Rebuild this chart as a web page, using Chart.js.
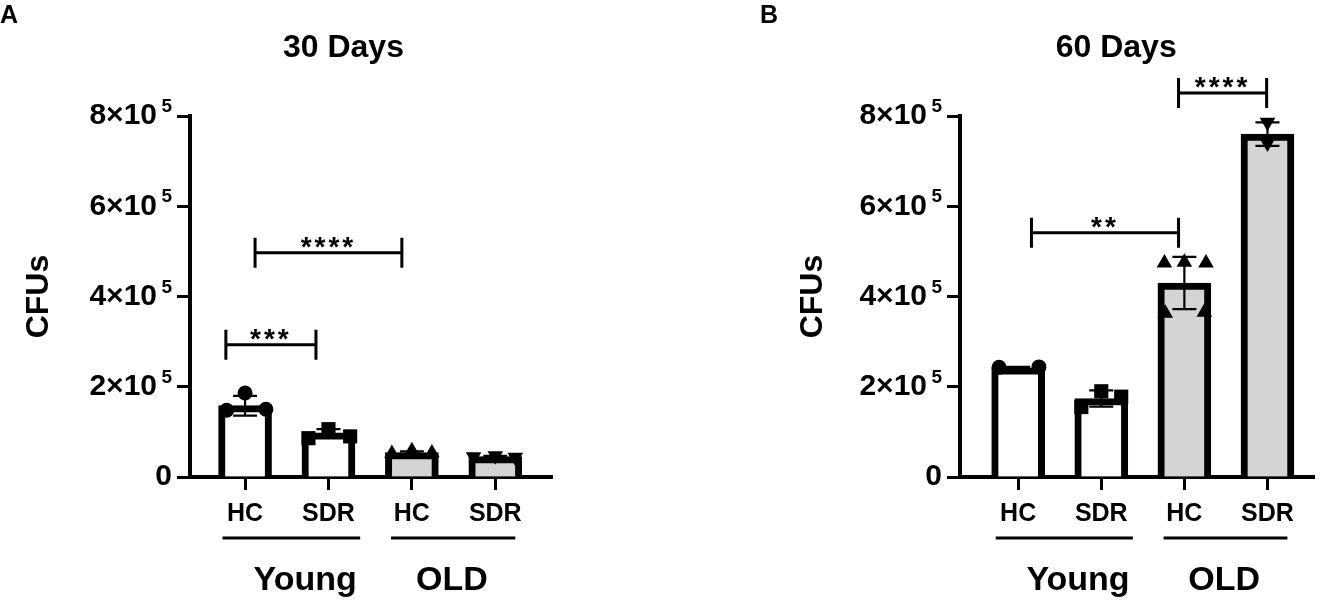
<!DOCTYPE html>
<html lang="en">
<head>
<meta charset="UTF-8" />
<script src="https://cdn.jsdelivr.net/npm/chart.js@4.4.1/dist/chart.umd.min.js"></script>
<title>CFUs at 30 and 60 days</title>
<style>
  body { margin: 0; background: #fff; }
  #wrap { position: relative; width: 1324px; height: 601px; }
  canvas { position: absolute; top: 0; }
  #chartA { left: 0; }
  #chartB { left: 662px; }
</style>
</head>
<body>
<div id="wrap">
  <canvas id="chartA" width="662" height="601"></canvas>
  <canvas id="chartB" width="662" height="601"></canvas>
</div>
<script>
const categories = ["HC", "SDR", "HC", "SDR"];
const groupNames = ["Young", "OLD"];
const yTicks = [0, 200000, 400000, 600000, 800000];
const yExponent = "5";

// 30 days
const mean30 = [158000, 98000, 54000, 45000];
const sd30 = [22000, 8000, 3000, 2000];
const hcYoung30 = [148000, 186000, 150000];
const sdrYoung30 = [86000, 106000, 90000];
const hcOld30 = [52000, 58000, 53000];
const sdrOld30 = [45000, 47000, 44000];

// 60 days
const mean60 = [242000, 174000, 430000, 760000];
const sd60 = [2000, 18000, 58000, 26000];
const hcYoung60 = [243000, 244000];
const sdrYoung60 = [155000, 190000, 178000];
const hcOld60 = [474000, 476000, 474000, 363000, 365000];
const sdrOld60 = [786000, 740000];

// significance brackets: [from, to (category units), height, label]
const sig30 = [[-0.23, 0.85, 293000, "***"], [0.12, 1.88, 497000, "****"]];
const sig60 = [[0.16, 1.93, 541000, "**"], [1.93, 2.99, 851000, "****"]];

// horizontal spread of the dots inside each bar (layout only)
const jitter30 = [[-0.22, 0, 0.25], [-0.24, 0, 0.26], [-0.24, 0, 0.24], [-0.26, 0, 0.24]];
const jitter60 = [[-0.23, 0.25], [-0.24, 0, 0.24], [-0.24, 0, 0.26, -0.23, 0.24], [0, 0]];

const FONT = "'Liberation Sans', Arial, sans-serif";
const fills = ["#ffffff", "#ffffff", "#d4d4d4", "#d4d4d4"];
const marks = [
  { pointStyle: "circle", pointRadius: 7.5, rotation: 0 },
  { pointStyle: "rect", pointRadius: 10, rotation: 0 },
  { pointStyle: "triangle", pointRadius: 9, rotation: 0 },
  { pointStyle: "triangle", pointRadius: 9, rotation: 180 },
];
const Y_TICK_LEN = 13, Y_TICK_PAD = 5;

const deco = {
  id: "deco",
  afterDatasetDraw(chart, args, o) {
    if (args.meta.type !== "bar") return;
    const x = chart.scales.x, y = chart.scales.y, ctx = chart.ctx;
    ctx.save();
    ctx.strokeStyle = "#000";
    ctx.lineWidth = 2.2;
    o.mean.forEach((m, i) => {
      const px = x.getPixelForValue(i);
      const top = y.getPixelForValue(m + o.sd[i]);
      const bot = y.getPixelForValue(m - o.sd[i]);
      ctx.beginPath();
      ctx.moveTo(px, top); ctx.lineTo(px, bot);
      ctx.moveTo(px - 12, top); ctx.lineTo(px + 12, top);
      ctx.moveTo(px - 12, bot); ctx.lineTo(px + 12, bot);
      ctx.stroke();
    });
    ctx.restore();
  },
  afterDraw(chart, args, o) {
    const x = chart.scales.x, y = chart.scales.y, ctx = chart.ctx;
    const bottom = chart.chartArea.bottom;
    ctx.save();
    ctx.fillStyle = "#000";
    ctx.strokeStyle = "#000";

    // exponent on the y tick labels
    ctx.font = "bold 19px " + FONT;
    ctx.textAlign = "right";
    ctx.textBaseline = "middle";
    const ex = chart.chartArea.left - Y_TICK_LEN - Y_TICK_PAD;
    y.ticks.forEach((t) => {
      if (t.value === 0) return;
      ctx.fillText(yExponent, ex, y.getPixelForValue(t.value) - 9);
    });

    // panel letter
    ctx.font = "bold 25px " + FONT;
    ctx.textAlign = "left";
    ctx.fillText(o.letter, o.letterX, 16);

    // title
    ctx.font = "bold 32px " + FONT;
    ctx.textAlign = "center";
    ctx.fillText(o.title, x.getPixelForValue(1.18), 48);

    // significance brackets
    ctx.lineWidth = 3;
    o.sig.forEach(([a, b, v, label]) => {
      const x1 = x.getPixelForValue(a), x2 = x.getPixelForValue(b);
      const py = y.getPixelForValue(v);
      ctx.beginPath();
      ctx.moveTo(x1, py); ctx.lineTo(x2, py);
      ctx.moveTo(x1, py - 15); ctx.lineTo(x1, py + 15);
      ctx.moveTo(x2, py - 15); ctx.lineTo(x2, py + 15);
      ctx.stroke();
      ctx.font = "bold 28px " + FONT;
      ctx.letterSpacing = "3px";
      ctx.textBaseline = "alphabetic";
      ctx.fillText(label, (x1 + x2) / 2, py + 3);
      ctx.letterSpacing = "0px";
    });

    // group lines and names
    const spans = [[-0.27, 1.38, 0.72], [1.75, 3.24, 2.48]];
    ctx.lineWidth = 3;
    ctx.font = "bold 34px " + FONT;
    ctx.textBaseline = "middle";
    spans.forEach(([a, b, c], g) => {
      ctx.beginPath();
      ctx.moveTo(x.getPixelForValue(a), bottom + 61);
      ctx.lineTo(x.getPixelForValue(b), bottom + 61);
      ctx.stroke();
      ctx.fillText(groupNames[g], x.getPixelForValue(c), bottom + 104);
    });
    ctx.restore();
  },
};

function makePanel(id, p) {
  const groups = [p.hcYoung, p.sdrYoung, p.hcOld, p.sdrOld];
  const dotSets = groups.map((vals, i) => ({
    type: "scatter",
    data: vals.map((v, k) => ({ x: i + p.jitter[i][k], y: v })),
    pointStyle: marks[i].pointStyle,
    pointRadius: marks[i].pointRadius,
    rotation: marks[i].rotation,
    backgroundColor: "#000",
    borderColor: "#000",
    borderWidth: 0,
    order: 1,
  }));

  new Chart(id, {
    type: "bar",
    data: {
      datasets: [
        {
          type: "bar",
          data: p.mean.map((m, i) => ({ x: i, y: m })),
          backgroundColor: fills,
          borderColor: "#000",
          borderWidth: 7,
          barThickness: 53,
          order: 2,
        },
        ...dotSets,
      ],
    },
    options: {
      responsive: false,
      animation: false,
      layout: { padding: p.padding },
      plugins: {
        legend: { display: false },
        tooltip: { enabled: false },
        deco: { mean: p.mean, sd: p.sd, sig: p.sig, title: p.title, letter: p.letter, letterX: p.letterX },
      },
      scales: {
        x: {
          type: "linear",
          min: p.xMin,
          max: p.xMax,
          offset: false,
          afterBuildTicks: (s) => { s.ticks = categories.map((c, i) => ({ value: i })); },
          ticks: {
            callback: (v, i) => categories[i],
            font: { family: FONT, size: 25, weight: "bold" },
            color: "#000",
            padding: 9,
            maxRotation: 0,
            autoSkip: false,
          },
          grid: { offset: false, drawOnChartArea: false, tickLength: 13, tickWidth: 3, tickColor: "#000" },
          border: { color: "#000", width: 4 },
          afterFit: (s) => { s.height = 124; },
        },
        y: {
          min: 0,
          max: 800000,
          afterBuildTicks: (s) => { s.ticks = yTicks.map((v) => ({ value: v })); },
          ticks: {
            // room is left after "×10" for the exponent drawn by the plugin
            callback: (v) => (v === 0 ? "0" : v / 100000 + "×10\u2002"),
            font: { family: FONT, size: 30, weight: "bold" },
            color: "#000",
            padding: Y_TICK_PAD,
          },
          grid: { drawOnChartArea: false, tickLength: Y_TICK_LEN, tickWidth: 3, tickColor: "#000" },
          border: { color: "#000", width: 4 },
          title: { display: true, text: "CFUs", font: { family: FONT, size: 32, weight: "bold" }, color: "#000", padding: 0 },
          afterFit: (s) => { s.width = p.yWidth; },
        },
      },
    },
    plugins: [deco],
  });
}

makePanel("chartA", {
  mean: mean30, sd: sd30, sig: sig30, jitter: jitter30,
  hcYoung: hcYoung30, sdrYoung: sdrYoung30, hcOld: hcOld30, sdrOld: sdrOld30,
  title: "30 Days", letter: "A", letterX: 0, yWidth: 170, xMin: -0.66, xMax: 3.68,
  padding: { left: 20, top: 116, right: 110, bottom: 0 },
});

makePanel("chartB", {
  mean: mean60, sd: sd60, sig: sig60, jitter: jitter60,
  hcYoung: hcYoung60, sdrYoung: sdrYoung60, hcOld: hcOld60, sdrOld: sdrOld60,
  title: "60 Days", letter: "B", letterX: 98, yWidth: 166, xMin: -0.70, xMax: 3.56,
  padding: { left: 132, top: 116, right: 1, bottom: 0 },
});
</script>
</body>
</html>
